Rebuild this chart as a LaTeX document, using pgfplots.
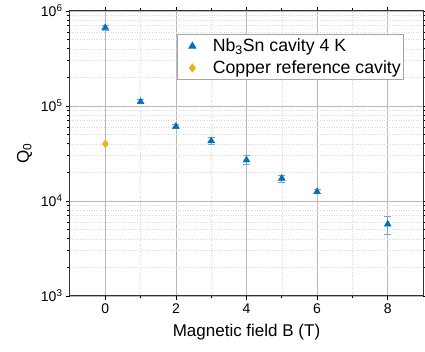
\documentclass[border=0pt]{standalone}
\usepackage{fontspec}
\setmainfont{Liberation Sans}
\usepackage{pgfplots}
\pgfplotsset{compat=1.18}
\definecolor{mblue}{HTML}{0072BD}
\definecolor{mblueL}{HTML}{6FA6D4}
\definecolor{morange}{HTML}{EDB120}
\begin{document}
\begin{tikzpicture}
\begin{axis}[
  scale only axis,
  width=353pt, height=285pt,
  xmin=-1, xmax=9,
  ymode=log, ymin=1e3, ymax=1e6,
  xtick={0,2,4,6,8},
  minor x tick num=1,
  ytick={1e3,1e4,1e5,1e6},
  yticklabels={10\textsuperscript{3},10\textsuperscript{4},10\textsuperscript{5},10\textsuperscript{6}},
  /pgf/number format/assume math mode=true,
  xticklabel style={font=\fontsize{14}{16}\selectfont},
  yticklabel style={font=\fontsize{14}{16}\selectfont},
  tick align=outside,
  tick style={black, line width=0.8pt},
  major tick length=4pt,
  minor tick length=2.5pt,
  axis line style={line width=1pt, black!80},
  grid=both,
  major grid style={gray!55, line width=0.6pt},
  minor grid style={gray!30, dotted, line width=0.5pt},
  xlabel={Magnetic field B (T)},
  ylabel={Q\textsubscript{0}},
  label style={font=\fontsize{17}{20}\selectfont},
  xlabel style={yshift=-4pt},
  ylabel style={yshift=2pt},
  legend style={at={(0.303,0.919)}, anchor=north west, draw=gray!70, line width=0.8pt,
    font=\fontsize{17.7}{20.5}\selectfont, inner xsep=1pt, inner ysep=2.5pt, row sep=3.5pt,
    cells={anchor=west, inner xsep=1pt}},
  legend cell align=left,
  legend image code/.code={%
    \draw[mark repeat=2,mark phase=2] plot coordinates {(0cm,0cm)(0.3cm,0cm)(0.6cm,0cm)};
    \path[draw=none] (-5.5pt,0pt) -- (-5.5pt,0.1pt);
    \path[draw=none] (27pt,0pt) -- (27pt,0.1pt);},
]
\addplot[only marks, mark=triangle*, mark size=4pt, color=mblue,
  error bars/.cd, y dir=both, y explicit,
  error bar style={color=mblueL, line width=0.8pt},
  error mark options={rotate=90, mark size=3.5pt, color=mblueL, line width=0.8pt}]
  table[x=x, y=y, y error=e] {
  x y e
  0 667000 40000
  1 111000 5000
  2 61000 3000
  3 43000 4000
  4 27000 3000
  5 17300 1500
  6 12500 600
  8 5700 1250
};
\addlegendentry{Nb\textsubscript{3}Sn cavity 4 K}
\addplot[only marks, mark=diamond*, mark size=4pt, color=morange]
  coordinates {(0,40000)};
\addlegendentry{Copper reference cavity}
\end{axis}
\pgfresetboundingbox
\useasboundingbox (current axis.south west) ++(-70pt,-55pt) rectangle ++(425pt,351pt);
\end{tikzpicture}
\end{document}
